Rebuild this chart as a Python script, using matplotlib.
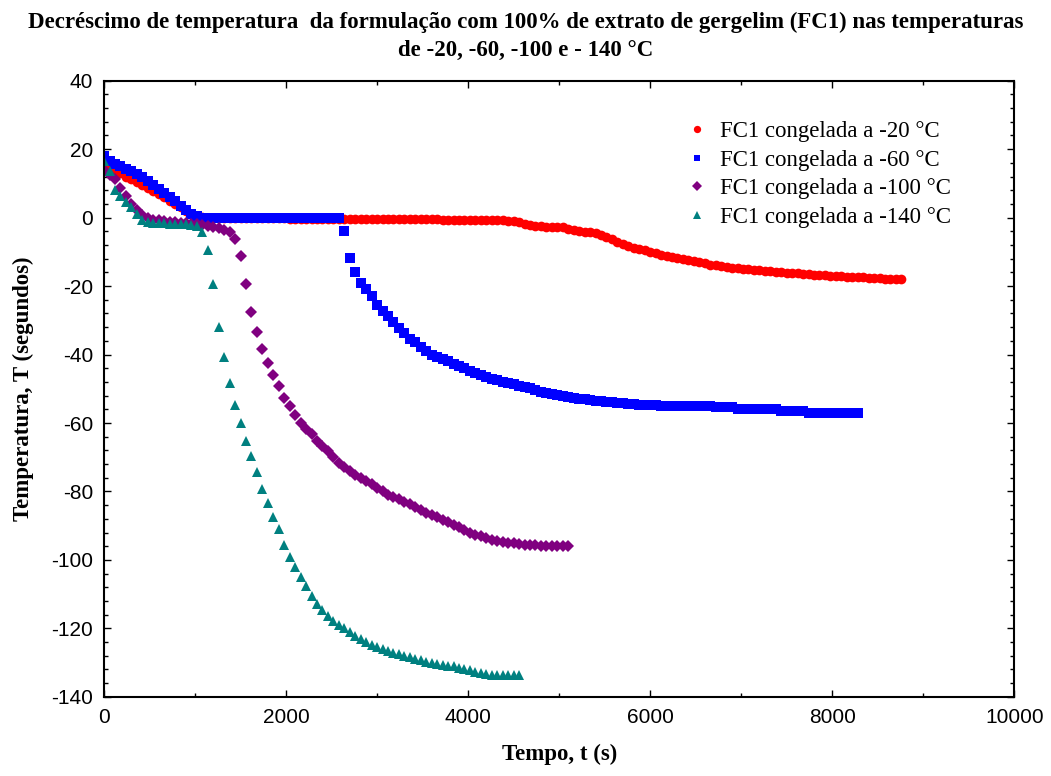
import matplotlib.pyplot as plt
from matplotlib.ticker import MultipleLocator

plt.rcParams['axes.unicode_minus'] = False

# sampling of the data logger (s)
dt = 60

# temperature readings (°C), one every dt seconds
fc1_m20 = [16.0, 15.2, 14.2, 13.0, 12.0, 11.2, 10.4, 9.6, 8.8, 7.9,
           7.0, 6.0, 5.0, 4.0, 3.0, 2.0, 1.1, 0.4, 0.1,
           0.0, 0.0, 0.0, 0.0, 0.0, 0.0, -0.1, -0.1, -0.1, -0.1,
           -0.1, -0.2, -0.2, -0.2, -0.2,
           -0.3, -0.3, -0.3, -0.3, -0.3, -0.4, -0.4, -0.4, -0.4, -0.4,
           -0.4, -0.4, -0.4, -0.4, -0.4, -0.4, -0.5, -0.5, -0.5, -0.5,
           -0.5, -0.5, -0.5, -0.5, -0.5, -0.5, -0.5, -0.5, -0.6, -0.6,
           -0.6, -0.6, -0.6, -0.6, -0.6,
           -0.6, -0.7, -0.7, -0.8, -0.8, -0.9, -1.0, -1.4, -1.8, -2.2,
           -2.4, -2.5, -2.6, -2.6, -2.7, -2.8, -3.2, -3.6, -3.9, -4.1,
           -4.3, -4.5, -5.0, -5.6, -6.3, -7.0, -7.7, -8.4, -8.8, -9.2,
           -9.6, -10.0, -10.4, -10.8, -11.1, -11.5, -11.8, -12.2, -12.5, -12.8,
           -13.1, -13.4, -13.7, -13.9, -14.2, -14.4, -14.6, -14.8, -15.0, -15.1,
           -15.3, -15.4, -15.5, -15.7, -15.8, -15.9, -16.1, -16.2, -16.3, -16.5,
           -16.6, -16.7, -16.8, -16.9, -17.0, -17.1, -17.1, -17.2, -17.2, -17.3,
           -17.4, -17.5, -17.6, -17.7, -17.8, -17.9, -18.0, -18.0]

fc1_m60 = [18.0, 16.5, 15.8, 15.0, 14.3, 13.6, 12.8, 11.8, 10.6, 9.6,
           8.5, 7.3, 6.0, 4.8, 3.5, 2.3, 1.2, 0.5,
           0.0, 0.0, 0.0, 0.0, 0.0, 0.0, 0.0, 0.0, 0.0, 0.0,
           0.0, 0.0, 0.0, 0.0, 0.0, 0.0, 0.0, 0.0, 0.0, 0.0,
           0.0, 0.0, 0.0, 0.0, 0.0, 0.0,
           -3.8, -11.8, -16.0, -19.0, -20.8, -22.8, -25.6, -27.2, -28.8, -30.5,
           -32.2, -33.7, -35.5, -36.4, -37.8, -39.0, -40.0, -40.6, -41.2, -42.0,
           -42.8, -43.4, -44.0, -44.7, -45.4, -46.0, -46.6, -47.1, -47.5, -48.0,
           -48.3, -48.7, -49.2, -49.6, -49.9, -50.4, -50.8, -51.2, -51.5, -51.8,
           -52.1, -52.4, -52.7, -52.9, -53.1, -53.3, -53.5, -53.7, -53.9, -54.0,
           -54.2, -54.3, -54.4, -54.5, -54.6, -54.7, -54.8, -54.8, -54.9, -54.9,
           -55.0, -55.0, -55.0, -55.1, -55.1, -55.1, -55.1, -55.1, -55.2, -55.2,
           -55.2, -55.3, -55.8, -55.8, -55.9, -55.9, -55.9, -55.9, -55.9, -55.9,
           -56.5, -56.5, -56.6, -56.6, -56.6, -57.1, -57.1, -57.1, -57.1, -57.1,
           -57.1, -57.1, -57.1, -57.1, -57.1]

fc1_m100 = [14.0, 12.5, 11.2, 8.8, 6.2, 4.0, 2.2, 0.8, -0.2, -0.6,
            -0.8, -1.0, -1.2, -1.4, -1.6, -1.7, -1.8, -2.0, -2.2, -2.5,
            -2.6, -3.0, -3.5, -4.3, -6.3, -11.3, -19.5, -27.5, -33.3, -38.4,
            -42.4, -45.9, -49.3, -52.6, -55.0, -57.6, -60.0, -61.8, -63.3, -65.2,
            -66.7, -68.3, -70.0, -71.7, -72.8, -74.0, -75.3, -76.1, -76.9, -77.8,
            -79.0, -80.0, -80.9, -81.6, -82.2, -83.0, -83.6, -84.6, -85.4, -86.2,
            -87.0, -87.6, -88.3, -89.0, -89.8, -90.5, -91.3, -92.0, -92.6, -93.1,
            -93.6, -94.1, -94.5, -94.8, -95.0, -95.2, -95.4, -95.5, -95.6, -95.7,
            -95.8, -95.8, -95.8, -95.8, -95.8, -95.8]

fc1_m140 = [16.5, 13.5, 8.0, 6.2, 4.6, 3.0, 1.0, -0.6, -1.3, -1.5,
            -1.6, -1.7, -1.8, -1.8, -2.0, -2.0, -2.1, -2.4, -4.1, -9.5,
            -19.5, -32.0, -40.7, -48.3, -54.8, -60.0, -65.2, -69.7, -74.2, -79.3,
            -83.5, -87.5, -91.0, -95.6, -99.1, -102.2, -105.0, -107.7, -110.6, -112.8,
            -114.7, -116.3, -117.9, -119.0, -120.0, -121.1, -122.2, -123.2, -124.1, -124.9,
            -125.5, -126.1, -126.6, -127.2, -127.6, -128.0, -128.3, -128.8, -129.3, -129.7,
            -130.0, -130.3, -130.6, -130.9, -131.1, -131.5, -131.9, -132.3, -132.7, -133.0,
            -133.2, -133.5, -133.6, -133.6, -133.6, -133.6, -133.6]

labels = ['FC1 congelada a -20 °C', 'FC1 congelada a -60 °C',
          'FC1 congelada a -100 °C', 'FC1 congelada a -140 °C']
series = [fc1_m20, fc1_m60, fc1_m100, fc1_m140]
colors = ['#ff0000', '#0000ff', '#800080', '#008080']
markers = ['o', 's', 'D', '^']
sizes = [7, 6.5, 6.5, 7.5]

fig = plt.figure(figsize=(10.51, 7.76), dpi=100)
ax = fig.add_axes([0.099, 0.102, 0.866, 0.794])

for temps, lab, c, m, ms in zip(series, labels, colors, markers, sizes):
    t = [i * dt for i in range(len(temps))]
    ax.plot(t, temps, linestyle='none', marker=m, ms=ms, color=c,
            markeredgewidth=0, label=lab)

ax.set_xlim(0, 10000)
ax.set_ylim(-140, 40)
ax.xaxis.set_major_locator(MultipleLocator(2000))
ax.xaxis.set_minor_locator(MultipleLocator(1000))
ax.yaxis.set_major_locator(MultipleLocator(20))
ax.yaxis.set_minor_locator(MultipleLocator(4))
ax.tick_params(which='both', direction='in', top=True, right=True, width=1)
ax.tick_params(which='major', length=5, labelsize=15, pad=8)
ax.tick_params(which='minor', length=3)
for lbl in ax.get_xticklabels() + ax.get_yticklabels():
    lbl.set_fontfamily('Liberation Sans')
for s in ax.spines.values():
    s.set_linewidth(1.5)

ax.set_xlabel('Tempo, t (s)', fontfamily='Liberation Serif', fontweight='bold',
              fontsize=16.5, labelpad=12)
ax.set_ylabel('Temperatura, T (segundos)', fontfamily='Liberation Serif',
              fontweight='bold', fontsize=16.5, labelpad=12)
fig.suptitle('Decréscimo de temperatura  da formulação com 100% de extrato de gergelim (FC1) nas temperaturas\n'
             'de -20, -60, -100 e - 140 °C', fontfamily='Liberation Serif',
             fontweight='bold', fontsize=16.5, y=0.985, linespacing=1.45)

leg = ax.legend(loc='upper right', bbox_to_anchor=(0.953, 0.968), frameon=False,
                prop={'family': 'Liberation Serif', 'size': 16.5},
                handletextpad=0.5, labelspacing=0.33, markerscale=0.75,
                handlelength=1.0)

fig.savefig('out.png', dpi=100)
